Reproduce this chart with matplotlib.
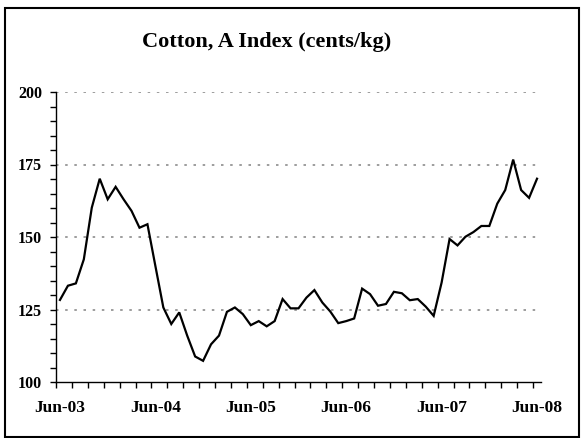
import matplotlib
matplotlib.use("Agg")
import matplotlib.pyplot as plt
from matplotlib.patches import Rectangle
import numpy as np

title = "Cotton, A Index (cents/kg)"
tick_labels = ["Jun-03", "Jun-04", "Jun-05", "Jun-06", "Jun-07", "Jun-08"]
values = [128.3, 133.2, 134.0, 142.3, 160.1, 170.1, 163.0, 167.3, 163.0, 159.0,
          153.2, 154.4, 140.0, 125.7, 120.0, 124.0, 116.0, 108.8, 107.3, 113.0,
          116.0, 124.2, 125.7, 123.4, 119.6, 121.0, 119.2, 121.0, 128.6, 125.4,
          125.4, 129.1, 131.7, 127.4, 124.3, 120.3, 121.0, 121.9, 132.2, 130.3,
          126.3, 126.9, 131.1, 130.6, 128.2, 128.6, 126.0, 122.8, 134.3, 149.3,
          147.1, 150.1, 151.7, 153.8, 153.8, 161.5, 166.2, 176.7, 166.2, 163.5,
          170.1]
y_ticks = [100, 125, 150, 175, 200]

plt.rcParams['font.family'] = ['Liberation Serif', 'DejaVu Serif']
W, H = 583, 438
fig = plt.figure(figsize=(W / 100, H / 100), dpi=100)
ax = fig.add_axes([56 / W, 56 / H, (541 - 56) / W, (382 - 92) / H])

x = np.arange(len(values))
ax.plot(x, values, color='black', lw=1.6, solid_joinstyle='miter')

ax.set_xlim(-0.5, len(values) - 0.5)
ax.set_ylim(100, 200)

ax.set_yticks(y_ticks)
ax.set_yticks(np.arange(100, 201, 5), minor=True)
ax.set_yticklabels([str(v) for v in y_ticks], fontsize=11.5, fontweight='bold')
ax.tick_params(axis='y', which='both', direction='out', length=4, width=1, pad=6)

ax.set_xticks(np.arange(0, len(values), 12))
ax.set_xticklabels(tick_labels, fontsize=12.5, fontweight='bold')
ax.set_xticks(np.arange(-0.5, len(values), 2), minor=True)
ax.tick_params(axis='x', which='major', length=0, pad=13)
ax.tick_params(axis='x', which='minor', direction='out', length=4, width=1)

for v in y_ticks[1:]:
    ax.axhline(v, color='#8c8c8c', lw=1.2, linestyle=(0, (1.5, 4)), zorder=0)

for s in ['top', 'right']:
    ax.spines[s].set_visible(False)
for s in ['left', 'bottom']:
    ax.spines[s].set_linewidth(1)

fig.text(267 / W, 1 - 42 / H, title, ha='center', va='center',
         fontsize=16, fontweight='bold')

fig.patches.append(Rectangle((5 / W, 1 / H), 574 / W, 429 / H, transform=fig.transFigure,
                             fill=False, edgecolor='black', lw=1.5))

fig.savefig("out.png", dpi=100)
